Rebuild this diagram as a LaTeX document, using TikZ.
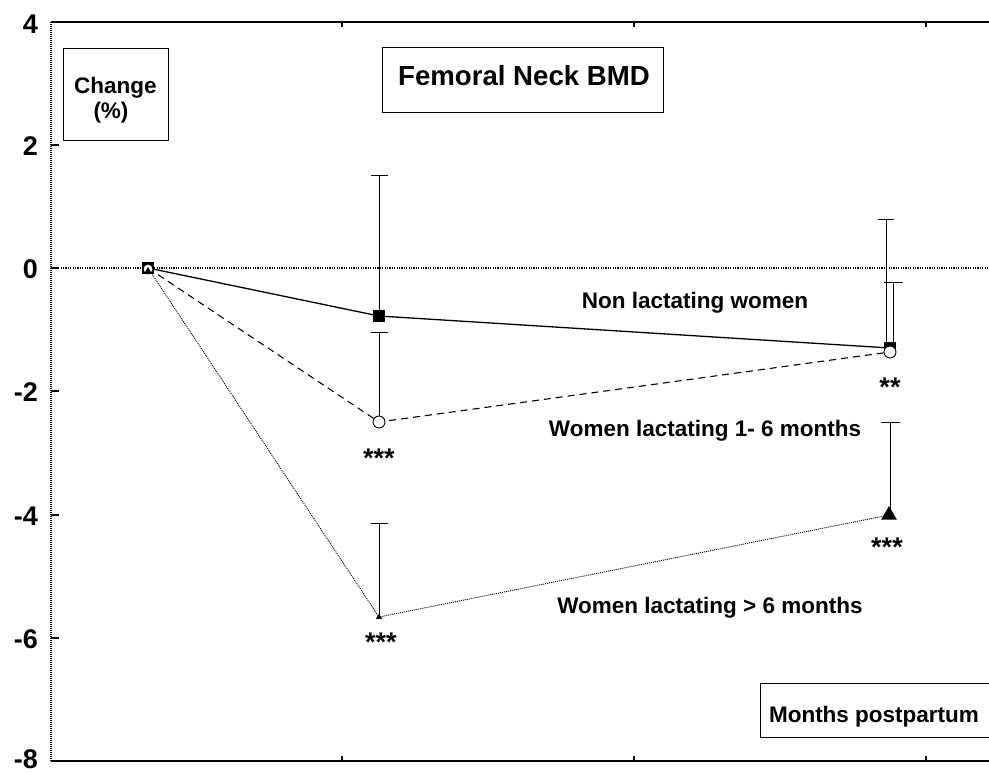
\documentclass[tikz,border=0pt]{standalone}
\usepackage{fontspec}
\setmainfont{Liberation Sans}
\usetikzlibrary{shapes.geometric}
\begin{document}
\begin{tikzpicture}[x=1pt,y=-1pt,
  lab/.style={font=\bfseries\fontsize{22.5}{25}\selectfont, inner sep=0pt},
  titlelab/.style={font=\bfseries\fontsize{27.6}{30}\selectfont, inner sep=0pt},
  ticklab/.style={font=\bfseries\fontsize{27}{29}\selectfont, inner sep=0pt, anchor=east},
  starlab/.style={font=\bfseries\fontsize{27}{28}\selectfont, inner sep=0pt, anchor=base},
  boxed/.style={draw, line width=1pt, inner sep=0pt},
  sq/.style={rectangle, fill=black, minimum size=12pt, inner sep=0pt},
  circ/.style={circle, draw, fill=white, line width=0.9pt, minimum size=12pt, inner sep=0pt},
  tri/.style={regular polygon, regular polygon sides=3, fill=black, minimum size=18pt, inner sep=0pt},
  ebar/.style={line width=1pt},
  solidline/.style={line width=1.3pt},
  dashline/.style={line width=1.1pt, dash pattern=on 7pt off 5pt},
  dotline/.style={line width=0.9pt, dash pattern=on 1pt off 1pt},
  zeroline/.style={line width=2.2pt, dash pattern=on 1.2pt off 1.2pt},
  axisline/.style={line width=1.5pt},
  tickline/.style={line width=1.2pt},
]
\useasboundingbox (0,0) rectangle (989,774);
\fill[white] (0,0) rectangle (989,774);

% frame
\coordinate (tl) at (51,22);
\coordinate (tr) at (989,22);
\coordinate (bl) at (51,761);
\coordinate (br) at (989,761);
\draw[axisline] (tl) -- (tr);
\draw[axisline] (bl) -- (br);
\draw[line width=1.2pt, dash pattern=on 1pt off 1pt] (tl) -- (bl);
\foreach \y in {22,145,268,391,515,638,761} \draw[tickline] (51,\y) -- (59,\y);
\foreach \x in {342,634,926} {
  \draw[tickline] (\x,761) -- (\x,756);
  \draw[tickline] (\x,22) -- (\x,27);
}

% y labels
\node[ticklab] (y4) at (38,24) {4};
\node[ticklab] (y2) at (38,146) {2};
\node[ticklab] (y0) at (38,269) {0};
\node[ticklab] (ym2) at (38,392) {-2};
\node[ticklab] (ym4) at (38,516) {-4};
\node[ticklab] (ym6) at (38,639) {-6};
\node[ticklab] (ym8) at (38,759) {-8};

% zero line
\coordinate (z0) at (51,268);
\coordinate (z1) at (989,268);
\draw[zeroline] (z0) -- (z1);

% data coordinates
\coordinate (p0) at (148,268);
\coordinate (a1) at (379,316);
\coordinate (a2) at (890,348);
\coordinate (b1) at (379,422);
\coordinate (b2) at (890,352);
\coordinate (c1) at (379,617);
\coordinate (c2) at (889,515);

% series lines
\draw[solidline] (p0) -- (a1) -- (a2);
\draw[dashline] (p0) -- (b1) -- (b2);
\draw[dotline] (p0) -- (c1) -- (c2);

% error bars
\coordinate (ea1) at (379,175);
\coordinate (eb1) at (379,332);
\coordinate (ec1) at (379,523);
\coordinate (ea2) at (886,219);
\coordinate (ea2b) at (886,346);
\coordinate (eb2) at (893,282);
\coordinate (eb2b) at (893,348);
\coordinate (ec2) at (890,422);
\coordinate (ec2b) at (890,510);
\draw[ebar] (a1) -- (ea1) ++(-8.5,0) -- ++(17,0);
\draw[ebar] (b1) -- (eb1) ++(-8.5,0) -- ++(17,0);
\draw[ebar] (c1) -- (ec1) ++(-8.5,0) -- ++(17,0);
\draw[ebar] (ea2b) -- (ea2) ++(-8,0) -- ++(16,0);
\draw[ebar] (eb2b) -- (eb2) ++(-9.5,0) -- ++(19,0);
\draw[ebar] (ec2b) -- (ec2) ++(-9.5,0) -- ++(19,0);

% markers
\node[sq] (m0s) at (p0) {};
\node[circ, minimum size=10pt] (m0c) at (148,269) {};
\node[tri, minimum size=8pt] (m0t) at (148,271) {};
\node[sq] (m1s) at (a1) {};
\node[circ] (m1c) at (b1) {};
\node[tri, minimum size=7pt] (m1t) at (c1) {};
\node[sq] (m2s) at (a2) {};
\node[circ] (m2c) at (b2) {};
\node[tri] (m2t) at (c2) {};

% stars
\node[starlab] (s1) at (379,467) {***};
\node[starlab] (s2) at (381,651) {***};
\node[starlab] (s3) at (890,396) {**};
\node[starlab] (s4) at (887,556) {***};

% series labels
\node[lab, anchor=base] (l1) at (695,308) {Non lactating women};
\node[lab, anchor=base] (l2) at (705,436) {Women lactating 1- 6 months};
\node[lab, anchor=base] (l3) at (710,613) {Women lactating > 6 months};

% boxes
\node[boxed, minimum width=105pt, minimum height=92pt] (chgbox) at (115.5,94) {};
\node[lab, anchor=base] (chg1) at (115.5,93) {Change};
\node[lab, anchor=base] (chg2) at (111,118) {(\%)};

\node[boxed, minimum width=281pt, minimum height=65pt] (titlebox) at (522.5,79.5) {};
\node[titlelab, anchor=base] (title) at (524,85) {Femoral Neck BMD};

\coordinate (mb1) at (989,683);
\coordinate (mb2) at (760,683);
\coordinate (mb3) at (760,737);
\coordinate (mb4) at (989,737);
\draw[line width=1pt] (mb1) -- (mb2) -- (mb3) -- (mb4);
\node[lab, anchor=base] (months) at (874,722) {Months postpartum};
\end{tikzpicture}
\end{document}
